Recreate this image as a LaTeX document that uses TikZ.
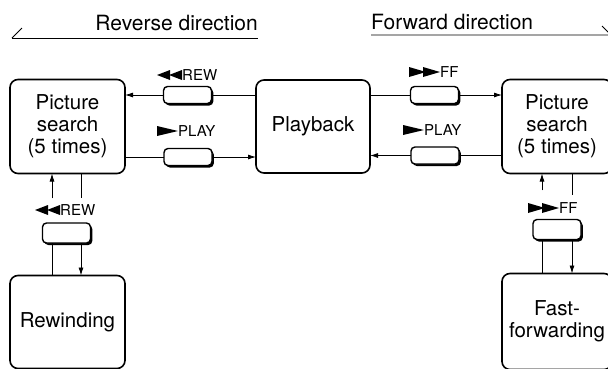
\documentclass[tikz,border=0pt]{standalone}
\usepackage{fontspec}
\setmainfont{TeX Gyre Heros}
\usetikzlibrary{positioning,arrows.meta,calc,shadows}

\begin{document}
\begin{tikzpicture}[
  x=1pt, y=-1pt,
  mode/.style={draw, line width=1.6pt, rounded corners=8pt, align=center, inner sep=0pt, outer sep=0pt,
    font=\fontsize{20.5}{22}\selectfont},
  key/.style={draw, fill=white, line width=1.4pt, rounded corners=4pt, minimum width=48pt, minimum height=17pt,
    inner sep=0pt, outer sep=0pt, drop shadow={shadow xshift=1.8pt, shadow yshift=-2pt, fill=black, opacity=1}},
  klbl/.style={font=\fontsize{15}{16}\selectfont, anchor=west, inner sep=0pt},
  hdr/.style={font=\fontsize{21}{22}\selectfont, inner sep=0pt},
  ln/.style={line width=0.8pt},
  arr/.style={ln, -{Latex[length=8pt,width=5pt]}},
  rewmk/.pic={\fill (-25,0) -- (-12,-5) -- (-12,5) -- cycle; \fill (-13,0) -- (0,-5) -- (0,5) -- cycle;},
  ffmk/.pic={\fill (-31,-5) -- (-14,0) -- (-31,5) -- cycle; \fill (-17,-5) -- (0,0) -- (-17,5) -- cycle;},
  playmk/.pic={\fill (-21,-5) -- (0,0) -- (-21,5) -- cycle;},
]
\useasboundingbox (0,0) rectangle (608,368);

% ---------- headings ----------
\node[hdr, anchor=base east] (rev) at (258,30.5) {Reverse direction};
\coordinate (revA) at (12,38);
\draw[ln] (revA) -- (rev.base east |- revA);
\draw[ln] (revA) -- ++(10,-10);
\node[hdr, anchor=base west] (fwd) at (371,29) {Forward direction};
\coordinate (fwdA) at (611,35);
\draw[ln] (fwd.base west |- fwdA) -- (fwdA) -- ++(-9,-9);

% ---------- modes ----------
\node[mode, minimum width=114pt, minimum height=93pt] (pb) at (313,126.5) {Playback};
\node[mode, minimum width=115pt, minimum height=94pt, left=131pt of pb] (psL) {Picture\\search\\(5 times)};
\node[mode, minimum width=110pt, minimum height=94pt, right=132pt of pb] (psR) {Picture\\search\\(5 times)};
\node[mode, minimum width=115pt, minimum height=93pt, below=102pt of psL] (rew) {Rewinding};
\node[mode, minimum width=110pt, minimum height=96pt, below=100pt of psR] (ffw) {Fast-\\forwarding};

% ---------- keys ----------
\node[key] (kRt) at (187.5,95) {};
\node[key] (kPl) at (188,157) {};
\node[key] (kFt) at (434.5,95) {};
\node[key] (kPr) at (435,155.5) {};
\node[key, minimum height=20pt] (kRv) at (66.5,233) {};
\node[key, minimum height=20pt] (kFv) at (557,229.5) {};

\node[klbl] (lRt) at (182,75) {REW};  \pic at (lRt.west) {rewmk};
\node[klbl] (lPl) at (178,131) {PLAY}; \pic at (lPl.west) {playmk};
\node[klbl] (lFt) at (440,72) {FF};   \pic at (lFt.west) {ffmk};
\node[klbl] (lPr) at (424,130) {PLAY}; \pic at (lPr.west) {playmk};
\node[klbl] (lRv) at (60,210) {REW};  \pic at (lRv.west) {rewmk};
\node[klbl] (lFv) at (559,208) {FF};  \pic at (lFv.west) {ffmk};

% ---------- horizontal links ----------
\draw[ln] (pb.west |- kRt) -- (kRt.east);
\draw[arr] (kRt.west) -- (psL.east |- kRt);
\draw[ln] (psL.east |- kPl) -- (kPl.west);
\draw[arr] (kPl.east) -- (pb.west |- kPl);
\draw[ln] (pb.east |- kFt) -- (kFt.west);
\draw[arr] (kFt.east) -- (psR.west |- kFt);
\draw[ln] (psR.west |- kPr) -- (kPr.east);
\draw[arr] (kPr.west) -- (pb.east |- kPr);

% ---------- vertical links ----------
\coordinate (uL) at ($(kRv.center)+(-14.5,0)$);
\coordinate (dL) at ($(kRv.center)+(14.5,0)$);
\draw[arr] ($(uL |- lRv.north)+(0,-6)$) -- (uL |- psL.south);
\draw[ln] (dL |- psL.south) -- ($(dL |- lRv.north)+(0,-6)$);
\draw[ln] (uL |- kRv.south) -- (uL |- rew.north);
\draw[arr] (dL |- kRv.south) -- (dL |- rew.north);

\coordinate (uR) at ($(kFv.center)+(-15,0)$);
\coordinate (dR) at ($(kFv.center)+(15,0)$);
\draw[arr] ($(uR |- lFv.north)+(0,-12)$) -- (uR |- psR.south);
\draw[ln] (dR |- psR.south) -- ($(dR |- lFv.north)+(0,-7)$);
\draw[ln] (uR |- kFv.south) -- (uR |- ffw.north);
\draw[arr] (dR |- kFv.south) -- (dR |- ffw.north);
\end{tikzpicture}
\end{document}
